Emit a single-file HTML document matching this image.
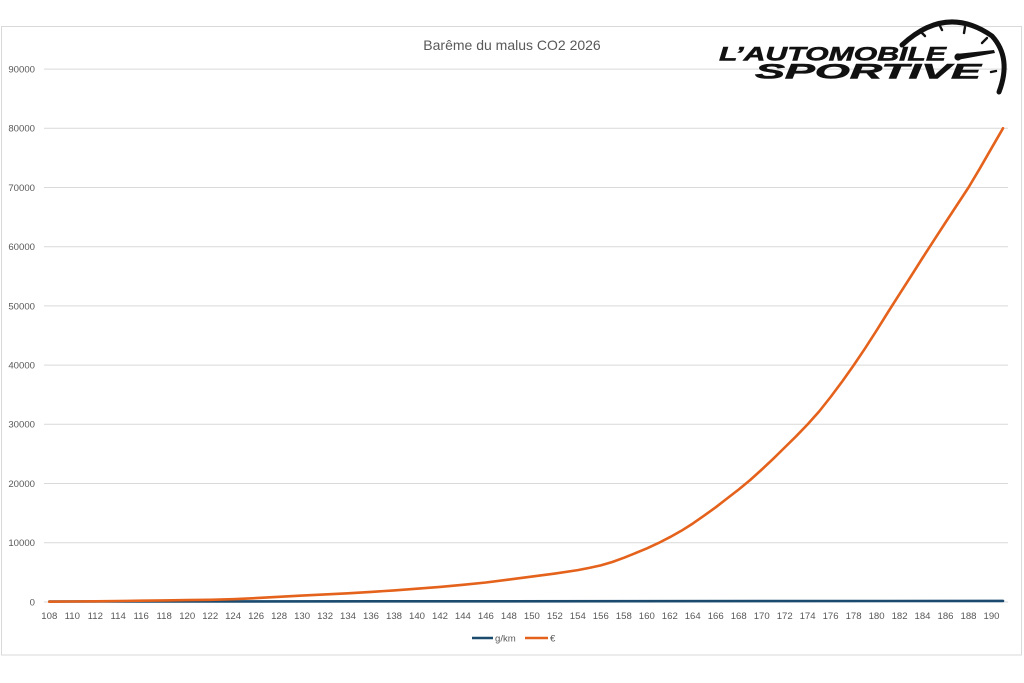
<!DOCTYPE html>
<html><head><meta charset="utf-8"><style>
html,body{margin:0;padding:0;background:#fff;}
svg{display:block;}
text{font-family:"Liberation Sans",Arial,sans-serif;}
</style></head><body>
<svg width="1024" height="683" viewBox="0 0 1024 683" xmlns="http://www.w3.org/2000/svg">
<rect x="0" y="0" width="1024" height="683" fill="#fff"/>
<rect x="1.5" y="26.5" width="1020" height="628.5" fill="#fff" stroke="#d9d9d9" stroke-width="1"/>
<text x="512" y="50" text-anchor="middle" font-size="14" fill="#595959">Barême du malus CO2 2026</text>
<g stroke="#d9d9d9" stroke-width="1">
<line x1="44" y1="69.1" x2="1008" y2="69.1"/>
<line x1="44" y1="128.3" x2="1008" y2="128.3"/>
<line x1="44" y1="187.5" x2="1008" y2="187.5"/>
<line x1="44" y1="246.7" x2="1008" y2="246.7"/>
<line x1="44" y1="305.9" x2="1008" y2="305.9"/>
<line x1="44" y1="365.1" x2="1008" y2="365.1"/>
<line x1="44" y1="424.3" x2="1008" y2="424.3"/>
<line x1="44" y1="483.5" x2="1008" y2="483.5"/>
<line x1="44" y1="542.7" x2="1008" y2="542.7"/>
<line x1="44" y1="602" x2="1008" y2="602"/>
</g>
<g font-size="9.6" fill="#595959" text-anchor="end">
<text x="35" y="72.5">90000</text>
<text x="35" y="131.7">80000</text>
<text x="35" y="190.9">70000</text>
<text x="35" y="250.1">60000</text>
<text x="35" y="309.3">50000</text>
<text x="35" y="368.5">40000</text>
<text x="35" y="427.7">30000</text>
<text x="35" y="486.9">20000</text>
<text x="35" y="546.1">10000</text>
<text x="35" y="605.4">0</text>
</g>
<g font-size="9.6" fill="#595959" text-anchor="middle">
<text x="49.3" y="619">108</text><text x="72.3" y="619">110</text><text x="95.3" y="619">112</text><text x="118.2" y="619">114</text>
<text x="141.2" y="619">116</text><text x="164.2" y="619">118</text><text x="187.2" y="619">120</text><text x="210.2" y="619">122</text>
<text x="233.1" y="619">124</text><text x="256.1" y="619">126</text><text x="279.1" y="619">128</text><text x="302.1" y="619">130</text>
<text x="325.1" y="619">132</text><text x="348" y="619">134</text><text x="371" y="619">136</text><text x="394" y="619">138</text>
<text x="417" y="619">140</text><text x="440" y="619">142</text><text x="462.9" y="619">144</text><text x="485.9" y="619">146</text>
<text x="508.9" y="619">148</text><text x="531.9" y="619">150</text><text x="554.9" y="619">152</text><text x="577.8" y="619">154</text>
<text x="600.8" y="619">156</text><text x="623.8" y="619">158</text><text x="646.8" y="619">160</text><text x="669.8" y="619">162</text>
<text x="692.7" y="619">164</text><text x="715.7" y="619">166</text><text x="738.7" y="619">168</text><text x="761.7" y="619">170</text>
<text x="784.7" y="619">172</text><text x="807.6" y="619">174</text><text x="830.6" y="619">176</text><text x="853.6" y="619">178</text>
<text x="876.6" y="619">180</text><text x="899.6" y="619">182</text><text x="922.5" y="619">184</text><text x="945.5" y="619">186</text>
<text x="968.5" y="619">188</text><text x="991.5" y="619">190</text>
</g>
<!-- g/km series -->
<polyline fill="none" stroke="#1a4a6e" stroke-width="2.6" stroke-linecap="round" points="49.3,601.5 500,601.3 1003,600.9"/>
<!-- € series -->
<polyline fill="none" stroke="#e4621b" stroke-width="2.6" stroke-linejoin="round" stroke-linecap="round" points="
49.3,601.7 72.3,601.5 95.3,601.3 118.2,601.0 141.2,600.7 164.2,600.4 187.2,600.1 210.2,599.8 233.1,599.2 256.1,598.1 279.1,596.8 302.1,595.6 325.1,594.4 348,593.3 371,591.9 394,590.4 417,588.7 440,586.9 462.9,584.8 485.9,582.5 508.9,579.6 531.9,576.6 554.9,573.6 577.8,570.1 589.3,567.9 600.8,565.4 612.3,562.0 623.8,557.8 635.3,553.2 646.8,548.4 658.3,543.1 669.8,537.2 681.3,530.8 692.7,523.6 704.2,515.6 715.7,507.3 727.2,498.4 738.7,489.5 750.2,480.0 761.7,469.6 773.2,458.8 784.7,447.5 796.2,436.2 807.6,424.4 819.1,411.5 830.6,397.0 842.1,381.6 853.6,365.4 865.1,348.3 876.6,330.4 888.1,312.0 899.6,293.9 911.1,276.0 922.5,258.0 934,240.2 945.5,222.5 957,205.0 968.5,187.5 980,168.2 991.5,148.2 1003,128.3"/>
<!-- legend -->
<line x1="472" y1="638" x2="493" y2="638" stroke="#1a4a6e" stroke-width="2.6"/>
<text x="495" y="641.5" font-size="9.6" fill="#595959">g/km</text>
<line x1="525" y1="638" x2="548" y2="638" stroke="#e4621b" stroke-width="2.6"/>
<text x="550" y="641.5" font-size="9.6" fill="#595959">€</text>
<!-- logo -->
<g>
<path d="M902,45 Q946,4 992,36 Q1012,58 999,92" fill="none" stroke="#111" stroke-width="5" stroke-linecap="round"/>
<g stroke="#111" stroke-width="2.4" stroke-linecap="round">
<line x1="920" y1="31" x2="925" y2="36"/>
<line x1="939" y1="24" x2="942" y2="30"/>
<line x1="965" y1="27" x2="964" y2="33"/>
<line x1="987" y1="38" x2="982" y2="43"/>
<line x1="996" y1="71" x2="991" y2="72"/>
</g>
<path d="M956,54 L994,50 L995,53 L957,60 Z" fill="#111"/>
<circle cx="958" cy="57" r="3.6" fill="#111"/>
<text x="719" y="60.5" font-size="19" font-weight="bold" font-style="italic" fill="#111" stroke="#111" stroke-width="0.5" textLength="227" lengthAdjust="spacingAndGlyphs">L’AUTOMOBILE</text>
<text x="755" y="78.5" font-size="21.5" font-weight="bold" font-style="italic" fill="#111" stroke="#111" stroke-width="0.6" textLength="226" lengthAdjust="spacingAndGlyphs">SPORTIVE</text>
</g>
</svg>
</body></html>
